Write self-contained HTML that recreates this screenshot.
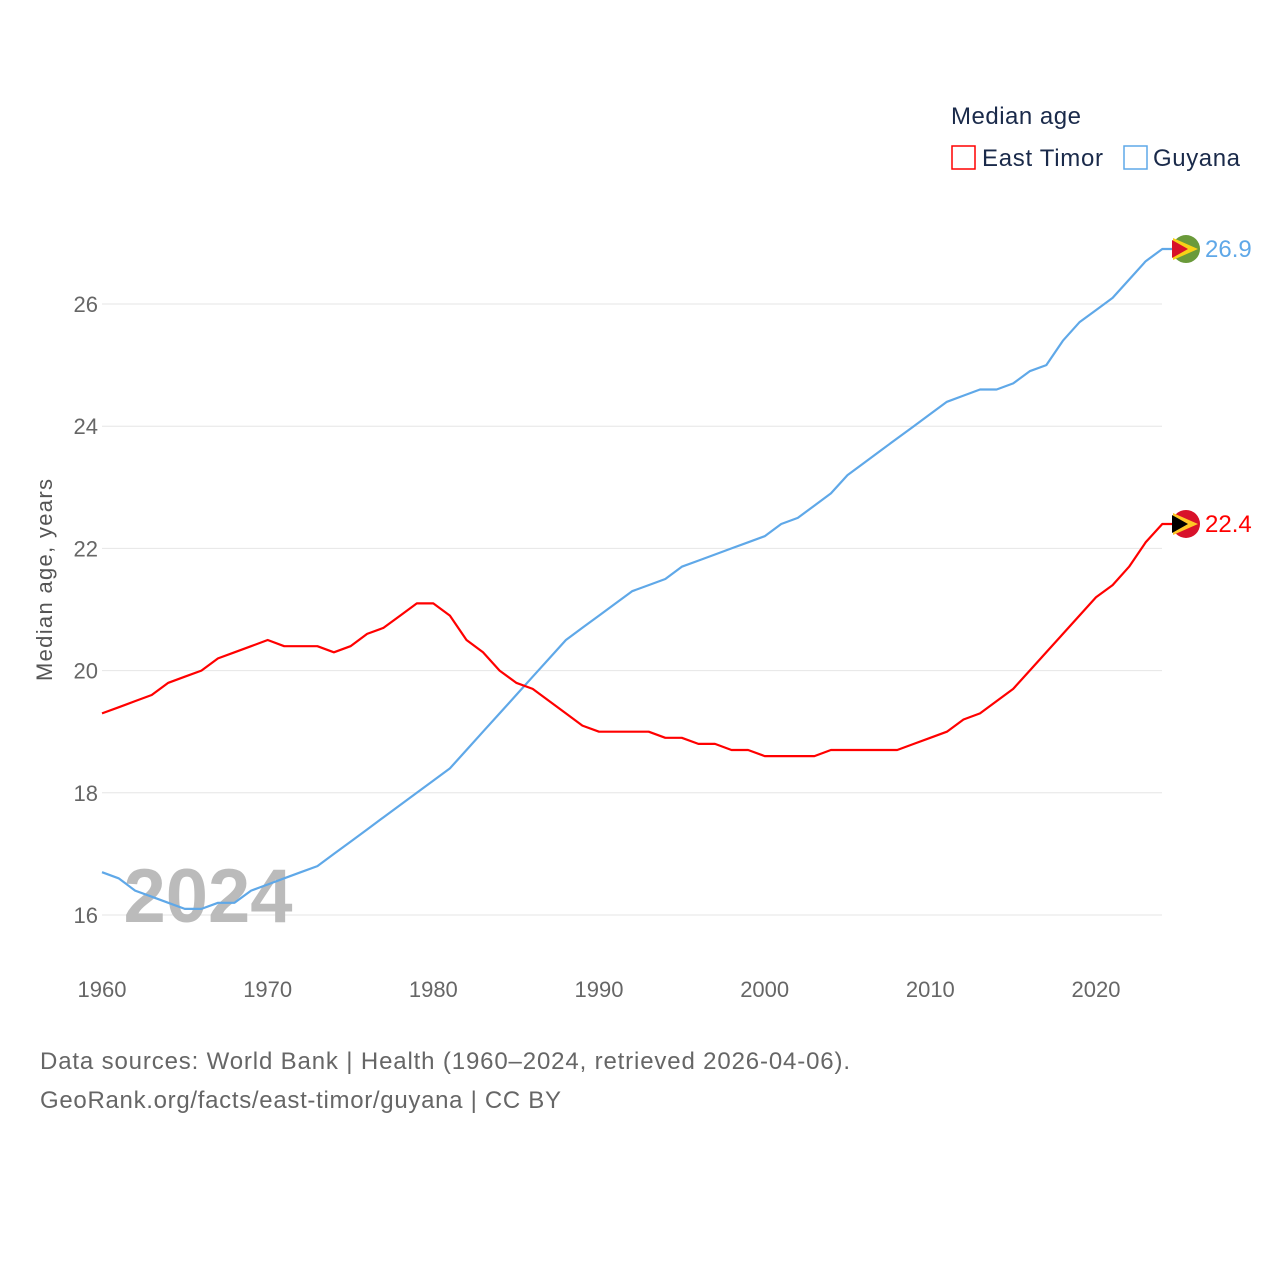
<!DOCTYPE html>
<html><head><meta charset="utf-8"><style>
body{margin:0;background:#fff;}
svg{display:block;font-family:"Liberation Sans",sans-serif;}
</style></head><body>
<svg id="chart" width="1280" height="1280" viewBox="0 0 1280 1280">
  <g id="grid"></g>
  <g id="yticks"></g>
  <g id="xticks"></g>
  <text x="208" y="922" font-size="76" font-weight="bold" fill="#bbb" text-anchor="middle">2024</text>
  <g id="series"></g>
  <text transform="translate(52,580) rotate(-90)" font-size="22" fill="#555" text-anchor="middle" textLength="202">Median age, years</text>
  <g>
    <text x="951" y="124" font-size="24" fill="#1a2a4a" textLength="130">Median age</text>
    <g>
      <rect x="952" y="146" width="23" height="23" fill="none" stroke="#ff0000" stroke-width="1.5"/>
      <text x="982" y="166" font-size="24" fill="#1a2a4a" textLength="121">East Timor</text>
    </g>
    <g>
      <rect x="1124" y="146" width="23" height="23" fill="none" stroke="#5fa8e8" stroke-width="1.5"/>
      <text x="1153" y="166" font-size="24" fill="#1a2a4a" textLength="87">Guyana</text>
    </g>
  </g>
  <text x="40" y="1069" font-size="24" fill="#666" textLength="810">Data sources: World Bank | Health (1960–2024, retrieved 2026-04-06).</text>
  <text x="40" y="1108" font-size="24" fill="#666" textLength="521">GeoRank.org/facts/east-timor/guyana | CC BY</text>
</svg>
<script>
const years = [];
for (let y = 1960; y <= 2024; y++) years.push(y);
const eastTimor = [19.3,19.4,19.5,19.6,19.8,19.9,20.0,20.2,20.3,20.4,20.5,20.4,20.4,20.4,20.3,20.4,20.6,20.7,20.9,21.1,21.1,20.9,20.5,20.3,20.0,19.8,19.7,19.5,19.3,19.1,19.0,19.0,19.0,19.0,18.9,18.9,18.8,18.8,18.7,18.7,18.6,18.6,18.6,18.6,18.7,18.7,18.7,18.7,18.7,18.8,18.9,19.0,19.2,19.3,19.5,19.7,20.0,20.3,20.6,20.9,21.2,21.4,21.7,22.1,22.4];
const guyana = [16.7,16.6,16.4,16.3,16.2,16.1,16.1,16.2,16.2,16.4,16.5,16.6,16.7,16.8,17.0,17.2,17.4,17.6,17.8,18.0,18.2,18.4,18.7,19.0,19.3,19.6,19.9,20.2,20.5,20.7,20.9,21.1,21.3,21.4,21.5,21.7,21.8,21.9,22.0,22.1,22.2,22.4,22.5,22.7,22.9,23.2,23.4,23.6,23.8,24.0,24.2,24.4,24.5,24.6,24.6,24.7,24.9,25.0,25.4,25.7,25.9,26.1,26.4,26.7,26.9];
const yTicks = [16,18,20,22,24,26];
const xTicks = [1960,1970,1980,1990,2000,2010,2020];

const NS = "http://www.w3.org/2000/svg";
const xs = y => 102 + (y - 1960) * (1096 - 102) / 60;
const ys = v => 915 - (v - 16) * (915 - 304) / 10;
function mk(tag, attrs, parent) {
  const e = document.createElementNS(NS, tag);
  for (const k in attrs) e.setAttribute(k, attrs[k]);
  parent.appendChild(e);
  return e;
}
const grid = document.getElementById('grid');
const yt = document.getElementById('yticks');
yTicks.forEach(t => {
  const l = mk('line', {x1: 102, x2: 1162, y1: ys(t), y2: ys(t), stroke: '#e6e6e6', 'stroke-width': 1}, grid);
  
  
  const tx = mk('text', {x: 98, y: ys(t) + 8, 'font-size': 22, fill: '#666', 'text-anchor': 'end'}, yt);
  tx.textContent = t;
  
  
});
const xt = document.getElementById('xticks');
xTicks.forEach(t => {
  const tx = mk('text', {x: xs(t), y: 997, 'font-size': 22, fill: '#666', 'text-anchor': 'middle'}, xt);
  tx.textContent = t;
  
  
});
const sg = document.getElementById('series');
function drawSeries(vals, color, name, label) {
  const last = vals[vals.length - 1];
  const cy = ys(last);
  const d = vals.map((v, i) => (i ? 'L' : 'M') + xs(years[i]).toFixed(1) + ',' + ys(v).toFixed(1)).join('') + 'L1172,' + cy.toFixed(1);
  const p = mk('path', {d: d, fill: 'none', stroke: color, 'stroke-width': 2.2, 'stroke-linejoin': 'round'}, sg);
  
  
  const c = mk('circle', {cx: 1186, cy: cy, r: 14, fill: name === 'guyana' ? '#6a9a3a' : '#d8112a'}, sg);
  
  
  const tri = mk('path', {d: `M1173,${cy-11}L1198,${cy}L1173,${cy+11}Z`, fill: name === 'guyana' ? '#f7d117' : '#ffc726'}, sg);
  
  
  const tri2 = mk('path', {d: `M1172,${cy-9}L1188,${cy}L1172,${cy+9}Z`, fill: name === 'guyana' ? '#d8112a' : '#000'}, sg);
  
  
  const t = mk('text', {x: 1205, y: cy + 8, 'font-size': 24, fill: color}, sg);
  t.textContent = label;
  
  
}
drawSeries(guyana, '#5fa8e8', 'guyana', guyana[guyana.length - 1].toFixed(1));
drawSeries(eastTimor, '#ff0000', 'east-timor', eastTimor[eastTimor.length - 1].toFixed(1));
</script>
</body></html>
